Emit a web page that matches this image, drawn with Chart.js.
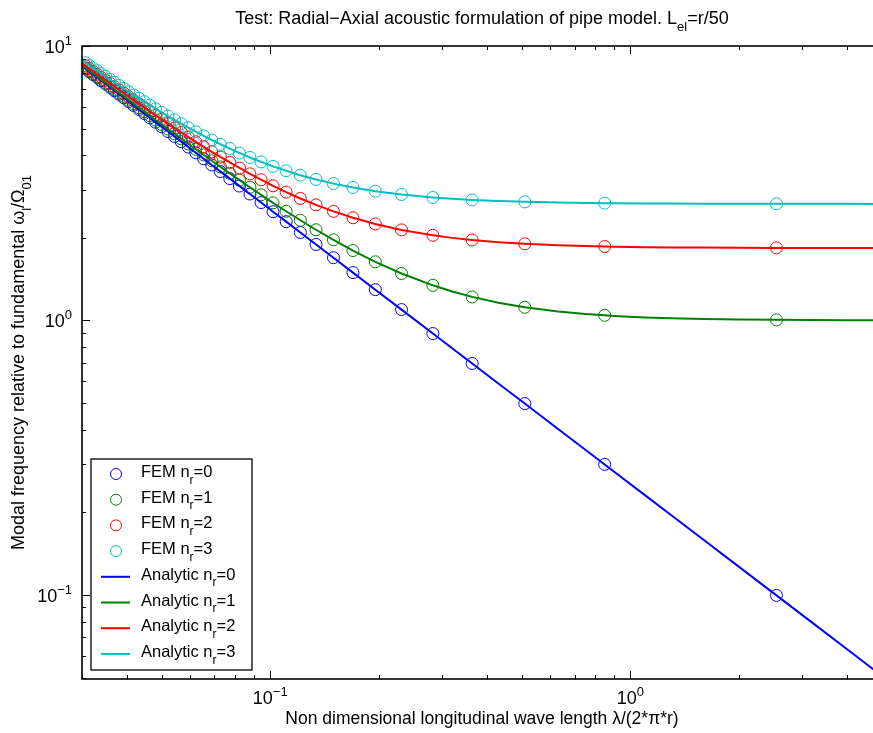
<!DOCTYPE html>
<html>
<head>
<meta charset="utf-8">
<script src="https://cdn.jsdelivr.net/npm/chart.js@4.4.0/dist/chart.umd.min.js"></script>
<style>
html,body{margin:0;padding:0;overflow:hidden;background:#fff}
#wrap{position:absolute;left:0;top:0;width:885px;height:733px}
</style>
</head>
<body>
<div id="wrap"><canvas id="c" width="885" height="733"></canvas></div>
<script>
/* ===== DATA ===== */
// FEM sample points: lambda/(2*pi*r)
const femX=[2.546,0.8487,0.5092,0.3637,0.2829,0.2315,0.1958,0.1697,0.1498,0.1340,0.1212,0.1107,0.1018,0.0943,0.0878,0.0821,0.0772,0.0727,0.0688,0.0653,0.0621,0.0592,0.0566,0.0542,0.0520,0.0499,0.0480,0.0463,0.0447,0.0432,0.0417,0.0404,0.0392,0.0380,0.0369,0.0359,0.0349,0.0339,0.0331,0.0322,0.0314,0.0307];
const femN0=[0.0996,0.299,0.498,0.697,0.896,1.096,1.295,1.494,1.693,1.892,2.092,2.291,2.490,2.689,2.888,3.088,3.287,3.486,3.685,3.884,4.084,4.283,4.482,4.681,4.880,5.080,5.279,5.478,5.677,5.876,6.076,6.275,6.474,6.673,6.872,7.072,7.271,7.470,7.669,7.868,8.068,8.267];
const femN1=[1.005,1.044,1.117,1.219,1.343,1.483,1.636,1.798,1.967,2.140,2.318,2.500,2.683,2.869,3.057,3.246,3.436,3.627,3.819,4.011,4.204,4.398,4.592,4.787,4.982,5.177,5.373,5.569,5.765,5.961,6.157,6.354,6.551,6.748,6.945,7.142,7.339,7.537,7.734,7.932,8.129,8.327];
const femN2=[1.839,1.860,1.902,1.964,2.043,2.138,2.247,2.367,2.497,2.637,2.783,2.936,3.094,3.256,3.422,3.592,3.765,3.940,4.117,4.296,4.477,4.660,4.843,5.028,5.214,5.401,5.589,5.777,5.967,6.157,6.347,6.538,6.729,6.921,7.113,7.306,7.499,7.692,7.886,8.080,8.274,8.468];
const femN3=[2.661,2.676,2.705,2.749,2.806,2.876,2.958,3.050,3.152,3.264,3.383,3.510,3.643,3.782,3.926,4.075,4.228,4.384,4.544,4.707,4.873,5.041,5.211,5.384,5.558,5.733,5.911,6.089,6.269,6.450,6.632,6.815,6.999,7.183,7.369,7.555,7.742,7.929,8.117,8.306,8.495,8.684];

// Analytic curves
const anaX=[5.0,4.0,3.2,2.546,2.0,1.6,1.3,1.1,0.9,0.8487,0.75,0.63,0.5092,0.43,0.3637,0.32,0.2829,0.2315,0.1958,0.1697,0.1498,0.134,0.1212,0.1107,0.1018,0.0878,0.0772,0.0688,0.0621,0.0566,0.052,0.048,0.0447,0.0417,0.0392,0.0369,0.0349,0.0331,0.0314,0.030];
const anaN0=[0.0507,0.0634,0.0793,0.0996,0.1268,0.1585,0.1951,0.2305,0.2818,0.2988,0.3381,0.4025,0.498,0.5897,0.6972,0.7924,0.8964,1.0956,1.2948,1.494,1.6932,1.8924,2.0916,2.2908,2.49,2.8884,3.2868,3.6852,4.0836,4.482,4.8804,5.2788,5.6772,6.0756,6.474,6.8724,7.2708,7.6692,8.0676,8.4527];
const anaN1=[1.0013,1.0020,1.0031,1.0050,1.0080,1.0125,1.0188,1.0262,1.0389,1.0437,1.0556,1.0780,1.1171,1.1609,1.2191,1.2759,1.3430,1.4833,1.6360,1.7978,1.9665,2.1404,2.3184,2.4996,2.6833,3.0566,3.4356,3.8185,4.2043,4.5922,4.9818,5.3727,5.7646,6.1573,6.5508,6.9448,7.3392,7.7341,8.1293,8.5117];
const anaN2=[1.8365,1.8368,1.8375,1.8385,1.8401,1.8426,1.8461,1.8502,1.8573,1.8599,1.8666,1.8794,1.9021,1.9281,1.9637,1.9995,2.0429,2.1378,2.2465,2.3669,2.4974,2.6365,2.7829,2.9356,3.0936,3.4224,3.7647,4.1171,4.4773,4.8434,5.2143,5.5889,5.9666,6.3469,6.7293,7.1133,7.4990,7.8858,8.2738,8.6497];
const anaN3=[2.6594,2.6597,2.6601,2.6608,2.6620,2.6637,2.6661,2.6689,2.6738,2.6757,2.6804,2.6892,2.7052,2.7236,2.7488,2.7745,2.8060,2.8758,2.9575,3.0499,3.1523,3.2636,3.3830,3.5097,3.6428,3.9259,4.2277,4.5443,4.8730,5.2114,5.5577,5.9106,6.2690,6.6320,6.9988,7.3688,7.7417,8.1171,8.4945,8.8610];

// Axis ticks
const xMajor=[0.1,1];
const xMajorExp=['\u22121','0'];
const xMinor=[0.03,0.04,0.05,0.06,0.07,0.08,0.09,0.2,0.3,0.4,0.5,0.6,0.7,0.8,0.9,2,3,4];
const yMajor=[0.1,1,10];
const yMajorExp=['\u22121','0','1'];
const yMinor=[0.05,0.06,0.07,0.08,0.09,0.2,0.3,0.4,0.5,0.6,0.7,0.8,0.9,2,3,4,5,6,7,8,9];

const modeLabels=['0','1','2','3'];
const colors=['#0000ff','#008000','#ff0000','#00bfbf'];

/* ===== helpers ===== */
const FONT='"Liberation Sans", Arial, Helvetica, sans-serif';

// parts: [[text,kind]] kind 0=normal,1=sub,2=sup
function richText(ctx,parts,x,y,align,size){
  const small=Math.round(size*0.72);
  let w=0;
  parts.forEach(p=>{ctx.font=(p[1]?small:size)+'px '+FONT;w+=ctx.measureText(p[0]).width;});
  let cx=align==='center'?x-w/2:align==='right'?x-w:x;
  ctx.textAlign='left';ctx.textBaseline='alphabetic';
  parts.forEach(p=>{
    ctx.font=(p[1]?small:size)+'px '+FONT;
    const dy=p[1]===1?size*0.4:p[1]===2?-size*0.45:0;
    ctx.fillText(p[0],cx,y+dy);
    cx+=ctx.measureText(p[0]).width;
  });
}

const pts=(xs,ys)=>xs.map((x,i)=>({x:x,y:ys[i]}));

const femSets=[femN0,femN1,femN2,femN3].map((ys,i)=>({
  label:'FEM n_r='+modeLabels[i],data:pts(femX,ys),showLine:false,
  pointStyle:'circle',pointRadius:6,pointBorderWidth:1,borderColor:colors[i],
  pointBackgroundColor:'rgba(0,0,0,0)',order:8-i
}));
const anaSets=[anaN0,anaN1,anaN2,anaN3].map((ys,i)=>({
  label:'Analytic n_r='+modeLabels[i],data:pts(anaX,ys),showLine:true,
  pointRadius:0,borderWidth:2,borderColor:colors[i],tension:0,fill:false,order:4-i
}));

/* ===== axes, labels, legend ===== */
const frame={
  id:'frame',
  afterDraw(chart){
    const ctx=chart.ctx,a=chart.chartArea,sx=chart.scales.x,sy=chart.scales.y;
    ctx.save();
    ctx.strokeStyle='#000';ctx.fillStyle='#000';
    // ticks
    ctx.lineWidth=1;
    ctx.beginPath();
    const tx=(v,len)=>{const p=Math.round(sx.getPixelForValue(v))+0.5;
      ctx.moveTo(p,a.bottom);ctx.lineTo(p,a.bottom-len);ctx.moveTo(p,a.top);ctx.lineTo(p,a.top+len);};
    const ty=(v,len)=>{const p=Math.round(sy.getPixelForValue(v))+0.5;
      ctx.moveTo(a.left,p);ctx.lineTo(a.left+len,p);ctx.moveTo(a.right,p);ctx.lineTo(a.right-len,p);};
    xMajor.forEach(v=>tx(v,8));xMinor.forEach(v=>tx(v,4));
    yMajor.forEach(v=>ty(v,8));yMinor.forEach(v=>ty(v,4));
    ctx.stroke();
    // box
    ctx.lineWidth=1.6;
    ctx.strokeRect(a.left,a.top,a.right-a.left,a.bottom-a.top);
    // tick labels
    xMajor.forEach((v,i)=>richText(ctx,[['10',0],[xMajorExp[i],2]],sx.getPixelForValue(v),a.bottom+25,'center',18));
    yMajor.forEach((v,i)=>richText(ctx,[['10',0],[yMajorExp[i],2]],a.left-10,sy.getPixelForValue(v)+7,'right',18));
    // title
    richText(ctx,[['Test: Radial\u2212Axial acoustic formulation of pipe model. L',0],['el',1],['=r/50',0]],(a.left+a.right)/2,24,'center',18);
    // x label
    richText(ctx,[['Non dimensional longitudinal wave length \u03bb/(2*\u03c0*r)',0]],(a.left+a.right)/2,724,'center',17.5);
    // y label
    ctx.save();ctx.translate(24,(a.top+a.bottom)/2);ctx.rotate(-Math.PI/2);
    richText(ctx,[['Modal frequency relative to fundamental \u03c9',0],['l',1],['/\u03a9',0],['01',1]],0,0,'center',18);
    ctx.restore();
    // legend
    const lx=91,ly=459,lw=161,lh=211;
    ctx.fillStyle='#fff';ctx.fillRect(lx,ly,lw,lh);
    ctx.lineWidth=1.3;ctx.strokeRect(lx,ly,lw,lh);
    for(let r=0;r<8;r++){
      const yy=474+r*25.7,c=colors[r%4];
      if(r<4){
        ctx.strokeStyle=c;ctx.lineWidth=1;
        ctx.beginPath();ctx.arc(116,yy,5.5,0,Math.PI*2);ctx.stroke();
      }else{
        ctx.strokeStyle=c;ctx.lineWidth=2;
        ctx.beginPath();ctx.moveTo(101,yy);ctx.lineTo(130,yy);ctx.stroke();
      }
      ctx.fillStyle='#000';
      richText(ctx,[[(r<4?'FEM':'Analytic')+' n',0],['r',1],['='+modeLabels[r%4],0]],141,yy+3,'left',16.5);
    }
    ctx.restore();
  }
};

new Chart(document.getElementById('c'),{
  type:'scatter',
  data:{datasets:[...femSets,...anaSets]},
  options:{
    responsive:false,animation:false,devicePixelRatio:1,
    layout:{autoPadding:false,padding:{left:82,top:46,right:3,bottom:54}},
    plugins:{legend:{display:false},tooltip:{enabled:false}},
    scales:{
      x:{type:'logarithmic',min:0.03,max:5,display:false},
      y:{type:'logarithmic',min:0.0494,max:10,display:false}
    }
  },
  plugins:[frame]
});
</script>
</body>
</html>
